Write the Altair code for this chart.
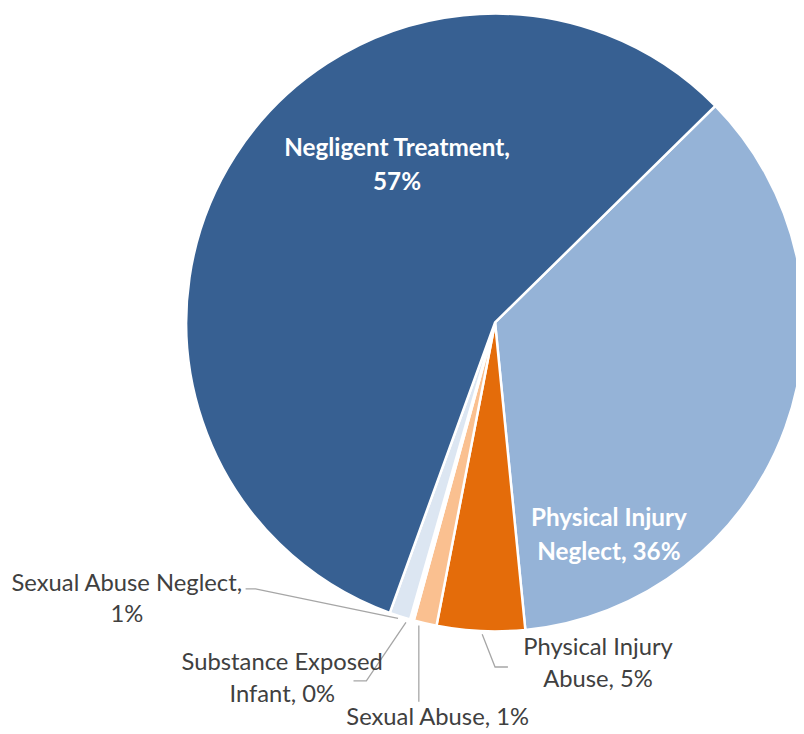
import altair as alt
import pandas as pd

# ---- data ----
categories = ["Physical Injury Neglect", "Physical Injury Abuse", "Sexual Abuse",
              "Substance Exposed Infant", "Sexual Abuse Neglect", "Negligent Treatment"]
shares = [35.8, 4.6, 1.2, 0.2, 1.1, 57.1]
colors = ["#95B3D7", "#E46C0A", "#FAC090", "#FFFFFF", "#DCE6F2", "#376092"]
label_texts = ["Physical Injury\nNeglect, 36%", "Physical Injury\nAbuse, 5%", "Sexual Abuse, 1%",
               "Substance Exposed\nInfant, 0%", "Sexual Abuse Neglect,\n1%", "Negligent Treatment,\n57%"]

# ---- layout (annotation placement, pixels in the view) ----
CX, CY, R = 492, 314, 312
START = 0.794  # radians, first slice begins at ~45 degrees
lab_x = [607, 596, 434, 277, 120, 393]
lab_y = [513, 643, 714, 658, 578, 139]
lab_inside = [True, False, False, False, False, True]

leader_pts = [
    ("Sexual Abuse Neglect", 0, 240, 583), ("Sexual Abuse Neglect", 1, 250, 583), ("Sexual Abuse Neglect", 2, 394, 613),
    ("Substance Exposed Infant", 0, 349, 676), ("Substance Exposed Infant", 1, 362, 676), ("Substance Exposed Infant", 2, 402, 617),
    ("Sexual Abuse", 0, 415, 620), ("Sexual Abuse", 1, 415, 697),
    ("Physical Injury Abuse", 0, 479, 629), ("Physical Injury Abuse", 1, 492, 662), ("Physical Injury Abuse", 2, 505, 662),
]

pie_df = pd.DataFrame({"category": categories, "share": shares, "idx": list(range(len(categories)))})
lab_df = pd.DataFrame({"category": categories, "text": label_texts, "x": lab_x, "y": lab_y,
                       "inside": lab_inside})
lead_df = pd.DataFrame(leader_pts, columns=["category", "k", "x", "y"])

pie = alt.Chart(pie_df).mark_arc(outerRadius=R, stroke="white", strokeWidth=2.5).encode(
    theta=alt.Theta("share:Q", stack=True, scale=alt.Scale(range=[START, START + 6.283185307])),
    color=alt.Color("category:N", scale=alt.Scale(domain=categories, range=colors), legend=None),
    order=alt.Order("idx:Q"),
    x=alt.value(CX),
    y=alt.value(CY),
)

leaders = alt.Chart(lead_df).mark_line(color="#A6A6A6", strokeWidth=1.3).encode(
    x=alt.X("x:Q", scale=None),
    y=alt.Y("y:Q", scale=None),
    detail="category:N",
    order="k:Q",
)

inside_labels = alt.Chart(lab_df).transform_filter("datum.inside").mark_text(
    font="Lato", fontSize=24.5, fontWeight="bold", color="white",
    align="center", baseline="middle", lineBreak="\n", lineHeight=34,
).encode(x=alt.X("x:Q", scale=None), y=alt.Y("y:Q", scale=None), text="text:N")

outside_labels = alt.Chart(lab_df).transform_filter("!datum.inside").mark_text(
    font="Lato", fontSize=24, color="#404040",
    align="center", baseline="middle", lineBreak="\n", lineHeight=32,
).encode(x=alt.X("x:Q", scale=None), y=alt.Y("y:Q", scale=None), text="text:N")

chart = alt.layer(pie, leaders, inside_labels, outside_labels).properties(
    width=796, height=726, autosize=alt.AutoSizeParams(type="none"), padding=0,
).configure_view(stroke=None)

chart.save("out.html", embed_options={"renderer": "svg", "actions": False})
